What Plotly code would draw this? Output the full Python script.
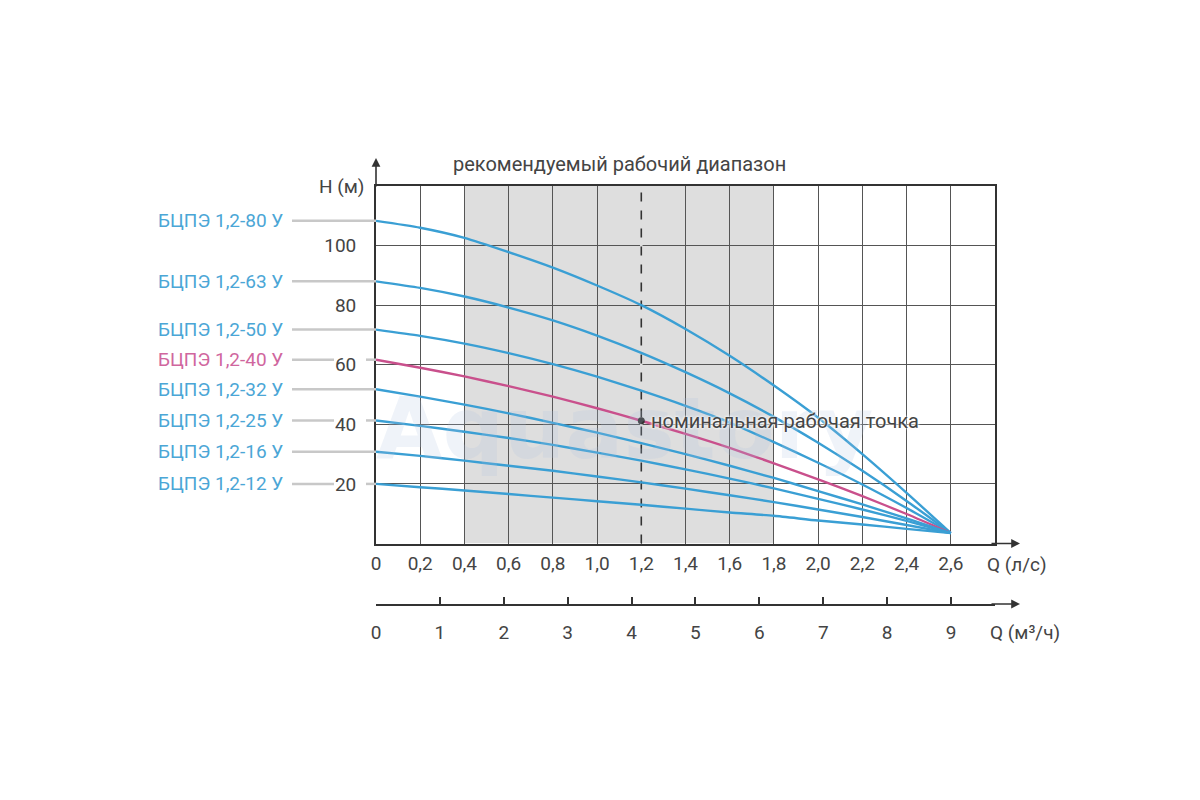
import plotly.graph_objects as go

# Q (л/с) points along each curve, H (м)
q = [0, 0.2, 0.4, 0.6, 0.8, 1.0, 1.2, 1.4, 1.6, 1.8, 2.0, 2.2, 2.4, 2.6]

h_80 = [108.3, 106.0, 102.6, 97.8, 92.6, 86.6, 80.0, 72.0, 63.0, 53.0, 42.2, 30.0, 17.0, 3.5]
h_63 = [88.0, 85.8, 82.9, 79.2, 74.9, 69.8, 64.0, 57.5, 50.4, 42.5, 33.8, 24.4, 14.3, 3.5]
h_50 = [71.8, 69.7, 67.1, 63.9, 60.2, 56.0, 51.3, 46.2, 40.6, 34.0, 27.1, 19.8, 11.9, 3.5]
h_40 = [61.7, 59.0, 56.1, 52.8, 49.3, 45.4, 41.2, 36.8, 32.1, 26.9, 21.5, 15.9, 9.9, 3.5]
h_32 = [51.8, 49.3, 46.6, 43.7, 40.5, 37.2, 33.7, 30.0, 26.1, 22.0, 17.6, 13.1, 8.4, 3.5]
h_25 = [41.3, 39.5, 37.5, 35.4, 33.1, 30.5, 27.8, 24.9, 21.8, 18.5, 15.0, 11.4, 7.6, 3.5]
h_16 = [30.8, 29.4, 27.8, 26.1, 24.4, 22.5, 20.5, 18.4, 16.2, 13.9, 11.4, 8.9, 6.2, 3.5]
h_12 = [20.0, 18.9, 17.8, 16.6, 15.4, 14.2, 13.0, 11.7, 10.4, 9.3, 7.7, 6.4, 4.9, 3.5]

names = ["БЦПЭ 1,2-80 У", "БЦПЭ 1,2-63 У", "БЦПЭ 1,2-50 У", "БЦПЭ 1,2-40 У",
         "БЦПЭ 1,2-32 У", "БЦПЭ 1,2-25 У", "БЦПЭ 1,2-16 У", "БЦПЭ 1,2-12 У"]
heads = [h_80, h_63, h_50, h_40, h_32, h_25, h_16, h_12]
highlight = "БЦПЭ 1,2-40 У"

q_ticks = [0, 0.2, 0.4, 0.6, 0.8, 1.0, 1.2, 1.4, 1.6, 1.8, 2.0, 2.2, 2.4, 2.6]
q_ticktext = ["0", "0,2", "0,4", "0,6", "0,8", "1,0", "1,2", "1,4", "1,6", "1,8",
              "2,0", "2,2", "2,4", "2,6"]
h_ticks = [20, 40, 60, 80, 100]
m3_ticks = [0, 1, 2, 3, 4, 5, 6, 7, 8, 9]

work_range = [0.4, 1.8]
q_nom, h_nom = 1.2, 41.2

BLUE = "#3a9fd4"
BLUE_TXT = "#4ba6d6"
PINK = "#c9508c"
PINK_TXT = "#d0669e"
GRID = "#555555"
TXT = "#444444"
FONT = "Roboto"

fig = go.Figure()

for name, h in zip(names, heads):
    fig.add_trace(go.Scatter(
        x=q, y=h, mode="lines", name=name,
        line=dict(color=PINK if name == highlight else BLUE, width=2.4, shape="spline", smoothing=0.6),
        hoverinfo="skip",
    ))

fig.add_trace(go.Scatter(
    x=[q_nom], y=[h_nom], mode="markers",
    marker=dict(color="#333333", size=7), hoverinfo="skip",
))

# empty trace so the m3/h axis gets its own subplot
fig.add_trace(go.Scatter(x=[None], y=[None], xaxis="x2", yaxis="y2", hoverinfo="skip"))

shapes = [
    dict(type="rect", xref="x", yref="y", x0=work_range[0], x1=work_range[1], y0=0, y1=120,
         fillcolor="#dedede", line=dict(width=0), layer="below"),
    dict(type="line", xref="x", yref="y", x0=q_nom, x1=q_nom, y0=0, y1=120,
         line=dict(color="#dedede", width=2.5), layer="between"),
    dict(type="line", xref="x", yref="y", x0=q_nom, x1=q_nom, y0=0, y1=120,
         line=dict(color="#333333", width=1.6, dash="dash"), layer="between"),
]

annotations = []
label_x = (285 - 376) / 619
lead_x0 = (292 - 376) / 619
for name, h in zip(names, heads):
    col = PINK_TXT if name == highlight else BLUE_TXT
    annotations.append(dict(
        x=label_x, xref="paper", y=h[0], yref="y", text=name, showarrow=False,
        xanchor="right", yanchor="middle", font=dict(family=FONT, size=19, color=col),
    ))
    # leader line, broken where it runs under a tick label
    if round(h[0]) in (20, 41, 62):
        segs = [(lead_x0, (334 - 376) / 619), ((366 - 376) / 619, 0)]
    else:
        segs = [(lead_x0, 0)]
    for a, b in segs:
        shapes.append(dict(type="line", xref="paper", yref="y", x0=a, x1=b, y0=h[0], y1=h[0],
                           line=dict(color="#c8c8c8", width=2.5)))

# watermark
annotations.append(dict(
    x=(624 - 376) / 619, xref="paper", y=(604 - 428) / 418, yref="paper",
    text="<b>Aquastory</b>", showarrow=False, xanchor="center", yanchor="middle",
    font=dict(family="DejaVu Sans", size=86, color="rgba(175,195,225,0.2)"),
))

annotations += [
    dict(x=work_range[0] + (work_range[1] - work_range[0]) / 2, xref="x",
         y=(604 - 164) / 418, yref="paper", yanchor="middle",
         text="рекомендуемый рабочий диапазон", showarrow=False,
         font=dict(family=FONT, size=20, color=TXT)),
    dict(x=(366 - 376) / 619, xref="paper", y=1.0, yref="paper", text="Н (м)", showarrow=False,
         xanchor="right", yanchor="middle", font=dict(family=FONT, size=19, color=TXT)),
    dict(x=q_nom, xref="x", y=h_nom, yref="y", text="номинальная рабочая точка", showarrow=False,
         xanchor="left", yanchor="middle", xshift=8,
         font=dict(family=FONT, size=20, color=TXT, shadow="0 0 3px white, 0 0 3px white")),
    dict(x=(985 - 376) / 619, xref="paper", y=0, yref="y", text="Q (л/с)", showarrow=False,
         xanchor="left", yanchor="middle", yshift=-21, font=dict(family=FONT, size=19, color=TXT)),
    dict(x=(988 - 376) / 619, xref="paper", y=0, yref="paper", text="Q (м³/ч)", showarrow=False,
         xanchor="left", yanchor="middle", yshift=-28, font=dict(family=FONT, size=19, color=TXT)),
    # axis arrows
    dict(x=0, xref="x", y=(604 - 158) / 418, yref="paper", ax=0, ay=30, text="",
         showarrow=True, arrowhead=2, arrowsize=1.1, arrowwidth=1.6, arrowcolor="#333333"),
    dict(x=(1020 - 376) / 619, xref="paper", y=0, yref="y", ax=-30, ay=0, text="",
         showarrow=True, arrowhead=2, arrowsize=1.1, arrowwidth=1.6, arrowcolor="#333333"),
    dict(x=(1020 - 376) / 619, xref="paper", y=0, yref="paper", ax=-30, ay=0, text="",
         showarrow=True, arrowhead=2, arrowsize=1.1, arrowwidth=1.6, arrowcolor="#333333"),
]

fig.update_layout(
    width=1200, height=800,
    margin=dict(l=376, r=205, t=186, b=196),
    paper_bgcolor="white", plot_bgcolor="white",
    showlegend=False,
    font=dict(family=FONT, size=19, color=TXT),
    xaxis=dict(
        range=[0, 2.8], tickvals=q_ticks, ticktext=q_ticktext,
        showgrid=True, gridcolor=GRID, gridwidth=1.3, zeroline=False,
        showline=True, linecolor="#333333", linewidth=1.8, mirror=True,
        ticks="", ticklabelstandoff=2, anchor="y",
        tickfont=dict(family=FONT, size=19, color=TXT),
    ),
    yaxis=dict(
        range=[0, 120], tickvals=h_ticks, domain=[(604 - 543.5) / 418, 1],
        showgrid=True, gridcolor=GRID, gridwidth=1.3, zeroline=False,
        showline=True, linecolor="#333333", linewidth=1.8, mirror=True,
        ticks="", ticklabelstandoff=14, anchor="x",
        tickfont=dict(family=FONT, size=19, color=TXT),
    ),
    xaxis2=dict(
        range=[0, 619 / 63.89], tickvals=m3_ticks, anchor="y2",
        showgrid=False, zeroline=False, showline=True, linecolor="#333333", linewidth=1.8,
        ticks="inside", ticklen=7, tickwidth=1.6, tickcolor="#333333",
        ticklabelstandoff=10, tickfont=dict(family=FONT, size=19, color=TXT),
    ),
    yaxis2=dict(domain=[0, 0.002], anchor="x2", visible=False, range=[0, 1]),
    shapes=shapes,
    annotations=annotations,
)

fig.write_html("out.html", config={"displayModeBar": False},
               post_script="document.body.style.margin='0px';")
